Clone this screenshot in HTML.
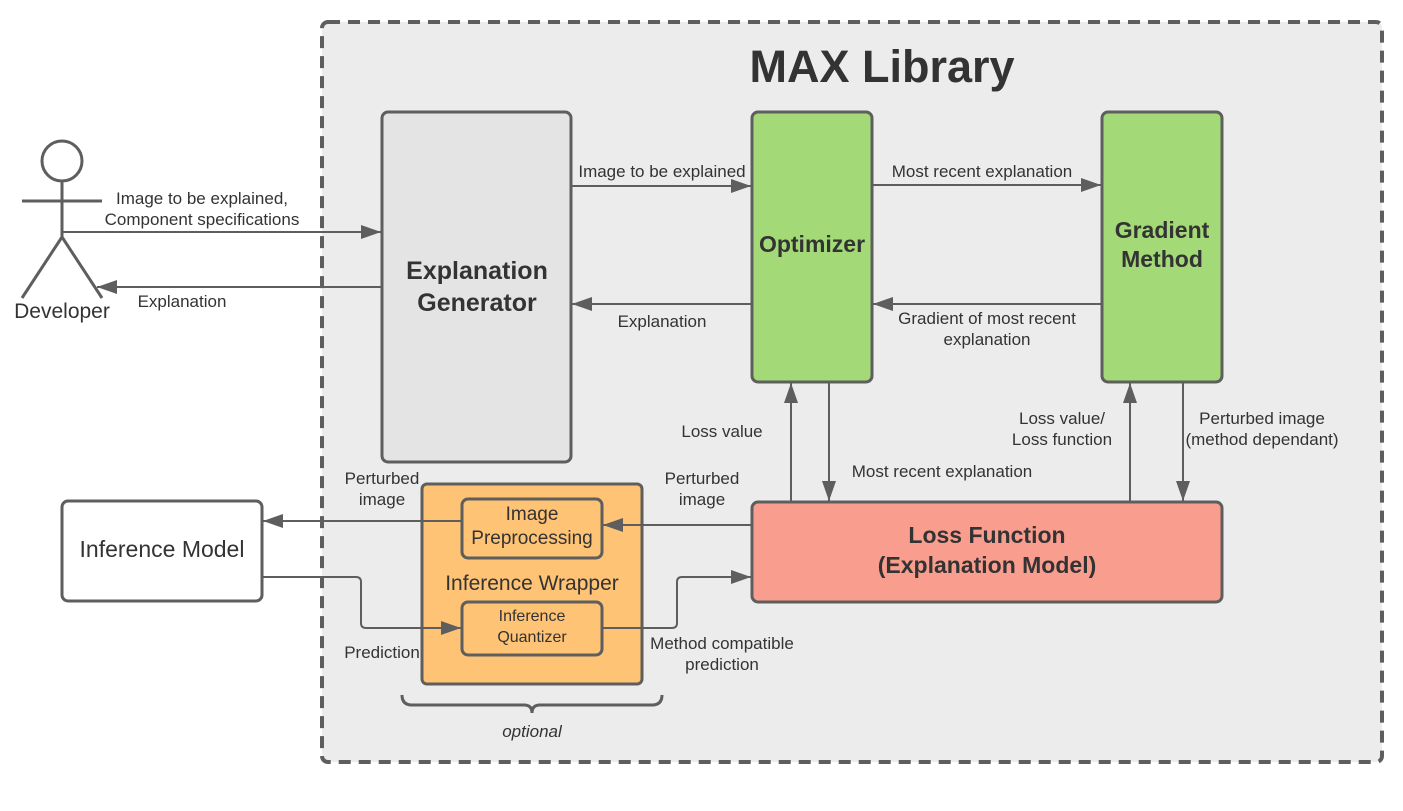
<!DOCTYPE html>
<html><head><meta charset="utf-8"><style>
html,body{margin:0;padding:0;background:#fff;width:1403px;height:811px;overflow:hidden}
svg{display:block}
text{font-family:"Liberation Sans",Arial,sans-serif;fill:#333}
</style></head><body>
<svg width="1403" height="811" viewBox="0 0 1403 811" xmlns="http://www.w3.org/2000/svg">
<defs>
<marker id="a" viewBox="0 0 10 10" refX="10" refY="5" markerWidth="20" markerHeight="20" markerUnits="userSpaceOnUse" orient="auto">
<path d="M0,1.5 L10,5 L0,8.5 z" fill="#5e5e5e"/>
</marker>
</defs>
<rect x="322" y="22" width="1060" height="740" rx="6" fill="#ececec" stroke="#5e5e5e" stroke-width="4" stroke-dasharray="12 8"/>
<text x="882" y="82" font-size="45" text-anchor="middle" style="font-weight:bold">MAX Library</text>

<g stroke="#5e5e5e" stroke-width="3">
<rect x="382" y="112" width="189" height="350" rx="6" fill="#e4e4e4"/>
<rect x="752" y="112" width="120" height="270" rx="6" fill="#a3d977"/>
<rect x="1102" y="112" width="120" height="270" rx="6" fill="#a3d977"/>
<rect x="752" y="502" width="470" height="100" rx="6" fill="#f99d8f"/>
<rect x="422" y="484" width="220" height="200" rx="5" fill="#fec374"/>
<rect x="462" y="499" width="140" height="59" rx="6" fill="#fec374"/>
<rect x="462" y="602" width="140" height="53" rx="6" fill="#fec374"/>
<rect x="62" y="501" width="200" height="100" rx="6" fill="#fff"/>
</g>

<g stroke="#5e5e5e" stroke-width="3" fill="none">
<circle cx="62" cy="161" r="20" fill="#fff"/>
<line x1="62" y1="181" x2="62" y2="237"/>
<line x1="22" y1="201" x2="102" y2="201"/>
<line x1="62" y1="237" x2="22" y2="298"/>
<line x1="62" y1="237" x2="102" y2="298"/>
</g>
<text x="62" y="318" font-size="21" text-anchor="middle">Developer</text>

<g stroke="#5e5e5e" stroke-width="2" fill="none" marker-end="url(#a)">
<line x1="62" y1="232" x2="381" y2="232"/>
<line x1="381" y1="287" x2="97" y2="287"/>
<line x1="572" y1="186" x2="751" y2="186"/>
<line x1="751" y1="304" x2="572" y2="304"/>
<line x1="873" y1="185" x2="1101" y2="185"/>
<line x1="1101" y1="304" x2="873" y2="304"/>
<line x1="791" y1="501" x2="791" y2="383"/>
<line x1="829" y1="383" x2="829" y2="501"/>
<line x1="1130" y1="501" x2="1130" y2="383"/>
<line x1="1183" y1="383" x2="1183" y2="501"/>
<line x1="751" y1="525" x2="603" y2="525"/>
<line x1="461" y1="521" x2="263" y2="521"/>
<path d="M263,577 H356 Q361,577 361,582 V623 Q361,628 366,628 H461"/>
<path d="M603,628 H672 Q677,628 677,623 V582 Q677,577 682,577 H751"/>
</g>
<path d="M402,695 Q402,705 412,705 H524 Q532,705 532,713 Q532,705 540,705 H652 Q662,705 662,695" stroke="#5e5e5e" stroke-width="3" fill="none"/>

<text x="477" y="279" font-size="25" text-anchor="middle" style="font-weight:bold">Explanation</text>
<text x="477" y="311" font-size="25" text-anchor="middle" style="font-weight:bold">Generator</text>
<text x="812" y="252" font-size="23" text-anchor="middle" style="font-weight:bold">Optimizer</text>
<text x="1162" y="238" font-size="23" text-anchor="middle" style="font-weight:bold">Gradient</text>
<text x="1162" y="267" font-size="23" text-anchor="middle" style="font-weight:bold">Method</text>
<text x="987" y="543" font-size="23" text-anchor="middle" style="font-weight:bold">Loss Function</text>
<text x="987" y="573" font-size="23" text-anchor="middle" style="font-weight:bold">(Explanation Model)</text>
<text x="162" y="557" font-size="23" text-anchor="middle">Inference Model</text>
<text x="532" y="590" font-size="21" text-anchor="middle">Inference Wrapper</text>
<text x="532" y="520" font-size="19" text-anchor="middle">Image</text>
<text x="532" y="544" font-size="19" text-anchor="middle">Preprocessing</text>
<text x="532" y="621" font-size="16" text-anchor="middle">Inference</text>
<text x="532" y="642" font-size="16" text-anchor="middle">Quantizer</text>

<g font-size="17" text-anchor="middle">
<text x="202" y="204">Image to be explained,</text>
<text x="202" y="225">Component specifications</text>
<text x="182" y="307">Explanation</text>
<text x="662" y="177">Image to be explained</text>
<text x="662" y="327">Explanation</text>
<text x="982" y="177">Most recent explanation</text>
<text x="987" y="324">Gradient of most recent</text>
<text x="987" y="345">explanation</text>
<text x="722" y="437">Loss value</text>
<text x="942" y="477">Most recent explanation</text>
<text x="1062" y="424">Loss value/</text>
<text x="1062" y="445">Loss function</text>
<text x="1262" y="424">Perturbed image</text>
<text x="1262" y="445">(method dependant)</text>
<text x="382" y="484">Perturbed</text>
<text x="382" y="505">image</text>
<text x="702" y="484">Perturbed</text>
<text x="702" y="505">image</text>
<text x="382" y="658">Prediction</text>
<text x="722" y="649">Method compatible</text>
<text x="722" y="670">prediction</text>
<text x="532" y="737" style="font-style:italic">optional</text>
</g>
</svg>
</body></html>
